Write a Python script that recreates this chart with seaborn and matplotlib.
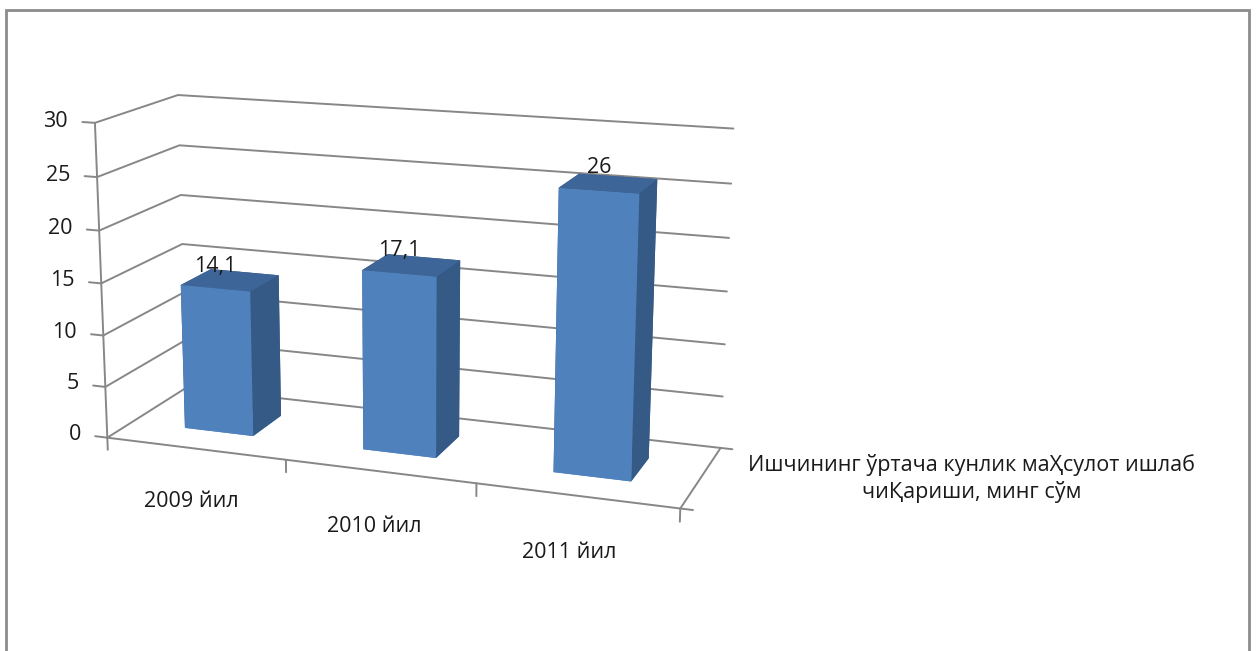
import matplotlib
matplotlib.use("Agg")
import matplotlib.pyplot as plt
import numpy as np
import seaborn as sns
from matplotlib.patches import Rectangle

# ── Data ──────────────────────────────────────────────────────────────────────
years = ["2009 йил", "2010 йил", "2011 йил"]
values = [14.1, 17.1, 26]
value_labels = ["14,1", "17,1", "26"]
z_ticks = [0, 5, 10, 15, 20, 25, 30]
series_name = "Ишчининг ўртача кунлик маҲсулот ишлаб\nчиҚариши, минг сўм"

# ── Style ─────────────────────────────────────────────────────────────────────
sns.set_theme(style="white")
plt.rcParams["font.family"] = ["Open Sans", "Noto Sans", "DejaVu Sans"]

FRONT = "#4f81bd"
SIDE = "#355a86"
TOP = "#3e6597"
GRID = "#878787"
TEXT = "#1a1a1a"
FS = 15.5

fig = plt.figure(figsize=(12.57, 6.51), dpi=100)
ax = fig.add_axes([-0.0195, 0.045, 0.68, 1.0], projection="3d", computed_zorder=False)
ax.set_proj_type("persp", focal_length=0.58)
ax.view_init(elev=14.5, azim=-70)
ax.set_xlim(-0.5, 2.5)
ax.set_ylim(0, 1)
ax.set_zlim(0, 30)
ax.set_box_aspect((3, 0.92, 1.64), zoom=1.054)
ax.set_axis_off()

x0, x1 = -0.5, len(years) - 0.5
line_kw = dict(color=GRID, lw=1.4, zorder=1, clip_on=False)
# walls: back + left gridlines
for z in z_ticks:
    ax.plot([x0, x0, x1], [0, 1, 1], [z, z, z], **line_kw)
# value axis, category axis, depth axis
ax.plot([x0, x0], [0, 0], [0, 30], **line_kw)
ax.plot([x0, x1], [0, 0], [0, 0], **line_kw)
ax.plot([x1, x1], [0, 1], [0, 0], **line_kw)
for z in z_ticks:
    ax.plot([x0, x0 - 0.07], [0, 0], [z, z], **line_kw)
    ax.text(x0 - 0.15, 0, z, str(z), ha="right", va="center", fontsize=FS, color=TEXT)
for xb in np.arange(x0, x1 + 0.01, 1.0):
    ax.plot([xb, xb], [0, 0], [0, -1.2], **line_kw)
for yb in [0, 1]:
    ax.plot([x1, x1 + 0.06], [yb, yb], [0, 0], **line_kw)

# bars: faces order is bottom, top, front, back, left, right
n = len(values)
bw = 0.39
xs = np.arange(n) - bw / 2
face_colors = [FRONT, TOP, FRONT, SIDE, SIDE, SIDE] * n
ax.bar3d(xs, np.full(n, 0.5 - bw / 2), np.zeros(n), bw, bw, values,
         color=face_colors, shade=False, edgecolor="none", linewidth=0, zorder=3)

for i, (v, lab) in enumerate(zip(values, value_labels)):
    ax.text(i, 0.5 - bw / 2, v + 1.1, lab, ha="center", va="bottom", fontsize=FS,
            color=TEXT, zorder=5)
for i, lab in enumerate(years):
    ax.text(i - 0.03, 0, -5.3, lab, ha="center", va="center", fontsize=FS, color=TEXT)

fig.text(0.773, 0.265, series_name, ha="center", va="center", fontsize=FS,
         color=TEXT, multialignment="center", linespacing=1.25)

fig.add_artist(Rectangle((0.005, -0.05), 0.989, 1.0346, transform=fig.transFigure,
                         fill=False, ec="#8c8c8c", lw=2))

fig.savefig("out.png", dpi=100)
